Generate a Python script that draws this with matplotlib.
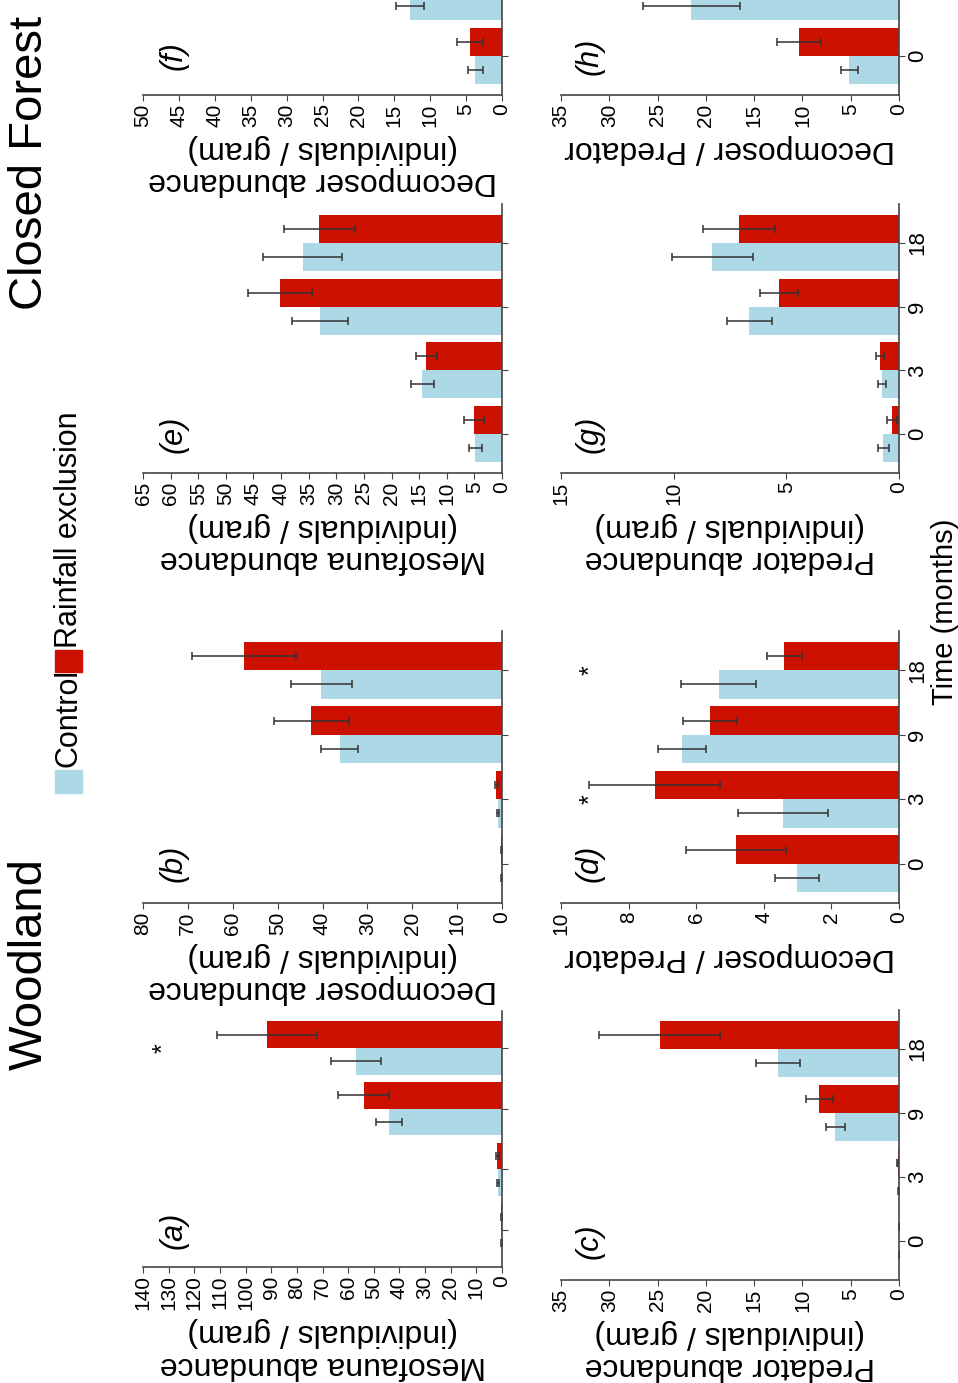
import numpy as np
import matplotlib

matplotlib.use("Agg")
import matplotlib.pyplot as plt
from matplotlib.patches import Rectangle

plt.rcParams["font.family"] = ["Liberation Sans", "DejaVu Sans"]

MONTHS = ["0", "3", "9", "18"]

# woodland
a_ctrl = [0.2, 1.5, 44.1, 57.0]
a_ctrl_err = [0.1, 0.5, 5.0, 9.7]
a_rain = [0.2, 1.8, 54.0, 91.5]
a_rain_err = [0.1, 0.6, 10.0, 19.5]

b_ctrl = [0.2, 0.9, 36.2, 40.3]
b_ctrl_err = [0.1, 0.3, 4.2, 6.8]
b_rain = [0.2, 1.3, 42.5, 57.4]
b_rain_err = [0.1, 0.3, 8.3, 11.6]

c_ctrl = [0.02, 0.1, 6.6, 12.55]
c_ctrl_err = [0.02, 0.05, 1.0, 2.3]
c_rain = [0.03, 0.15, 8.24, 24.8]
c_rain_err = [0.02, 0.05, 1.4, 6.3]

d_ctrl = [3.02, 3.44, 6.42, 5.34]
d_ctrl_err = [0.66, 1.33, 0.7, 1.1]
d_rain = [4.82, 7.23, 5.59, 3.39]
d_rain_err = [1.48, 1.94, 0.8, 0.53]

# closed forest
e_ctrl = [4.8, 14.4, 33.0, 36.1]
e_ctrl_err = [1.2, 2.0, 5.1, 7.1]
e_rain = [5.1, 13.7, 40.2, 33.1]
e_rain_err = [1.8, 1.9, 5.8, 6.4]

f_ctrl = [3.7, 12.8, 27.0, 30.0]
f_ctrl_err = [1.0, 2.0, 4.5, 5.0]
f_rain = [4.5, 11.0, 33.0, 27.0]
f_rain_err = [1.8, 2.0, 5.0, 5.0]

g_ctrl = [0.69, 0.74, 6.65, 8.28]
g_ctrl_err = [0.26, 0.18, 1.0, 1.81]
g_rain = [0.33, 0.84, 5.32, 7.09]
g_rain_err = [0.22, 0.18, 0.85, 1.6]

h_ctrl = [5.14, 21.5, 5.0, 4.4]
h_ctrl_err = [0.86, 5.05, 1.0, 1.0]
h_rain = [10.34, 15.0, 7.5, 5.0]
h_rain_err = [2.26, 3.0, 1.5, 1.0]

# significance marks: (month index, height)
a_stars = [(3, 132)]
d_stars = [(1, 9.13), (3, 9.13)]

CONTROL = "#add8e6"
RAIN = "#cc1100"
AXIS = "#444444"

MESO = "Mesofauna abundance\n(individuals / gram)"
DECO = "Decomposer abundance\n(individuals / gram)"
PRED = "Predator abundance\n(individuals / gram)"
RATIO = "Decomposer / Predator"

fig = plt.figure(figsize=(9.58, 13.83), dpi=100)
W, H = 958, 1383


def rect(x0, x1, ytop, ybot):
    return [x0 / W, (H - ybot) / H, (x1 - x0) / W, (ybot - ytop) / H]


def panel(box, ctrl, ctrl_err, rain, rain_err, vmax, step, letter, label,
          months=None, stars=()):
    ax = fig.add_axes(box)
    pos = np.arange(len(MONTHS))
    w = 0.44
    ekw = dict(ecolor="#333333", elinewidth=1.1, capsize=3, capthick=1.1)
    ax.barh(pos - w / 2, ctrl, height=w, color=CONTROL, xerr=ctrl_err, error_kw=ekw)
    ax.barh(pos + w / 2, rain, height=w, color=RAIN, xerr=rain_err, error_kw=ekw)
    ax.set_xlim(vmax, 0)
    ax.set_ylim(-0.61, 3.61)
    ticks = np.arange(0, vmax + step / 2, step)
    ax.set_xticks(ticks)
    ax.set_xticklabels([f"{t:g}" for t in ticks])
    ax.tick_params(axis="x", labelrotation=90, labelsize=15, length=4,
                   color=AXIS, pad=2)
    ax.yaxis.tick_right()
    ax.set_yticks(pos)
    ax.set_yticklabels(months if months else [""] * len(MONTHS))
    ax.tick_params(axis="y", labelrotation=90, labelsize=16, length=4,
                   color=AXIS, pad=2)
    for lbl in ax.get_yticklabels():
        lbl.set_va("center")
    for s in ("top", "left"):
        ax.spines[s].set_visible(False)
    for s in ("bottom", "right"):
        ax.spines[s].set_color(AXIS)
        ax.spines[s].set_linewidth(1.2)
    ax.set_xlabel(label, rotation=180, fontsize=23, labelpad=5, linespacing=1.1)
    ax.text(0.085, 0, letter, transform=ax.get_yaxis_transform(), rotation=90,
            style="italic", fontsize=22, ha="center", va="center")
    for idx, val in stars:
        ax.text(val, idx, "*", rotation=90, ha="center", va="center", fontsize=18)
    return ax


panel(rect(143, 502, 1011, 1267), a_ctrl, a_ctrl_err, a_rain, a_rain_err,
      140, 10, "(a)", MESO, stars=a_stars)
panel(rect(143, 502, 631, 903), b_ctrl, b_ctrl_err, b_rain, b_rain_err,
      80, 10, "(b)", DECO)
panel(rect(143, 502, 204, 473), e_ctrl, e_ctrl_err, e_rain, e_rain_err,
      65, 5, "(e)", MESO)
panel(rect(143, 502, -174, 95), f_ctrl, f_ctrl_err, f_rain, f_rain_err,
      50, 5, "(f)", DECO)

panel(rect(561, 899, 1010, 1280), c_ctrl, c_ctrl_err, c_rain, c_rain_err,
      35, 5, "(c)", PRED, months=MONTHS)
panel(rect(561, 899, 631, 903), d_ctrl, d_ctrl_err, d_rain, d_rain_err,
      10, 2, "(d)", RATIO, months=MONTHS, stars=d_stars)
panel(rect(561, 899, 204, 473), g_ctrl, g_ctrl_err, g_rain, g_rain_err,
      15, 5, "(g)", PRED, months=MONTHS)
# only the first month of (h) stays on the page
panel(rect(561, 899, -174, 95), h_ctrl, h_ctrl_err, h_rain, h_rain_err,
      35, 5, "(h)", RATIO, months=MONTHS[:1] + [""] * 3)

# titles and shared labels, all turned with the page
fig.text(30 / W, (H - 1070) / H, "Woodland", rotation=90, fontsize=34,
         ha="center", va="bottom")
fig.text(30 / W, (H - 310) / H, "Closed Forest", rotation=90, fontsize=34,
         ha="center", va="bottom")
fig.text(945 / W, (H - 612) / H, "Time (months)", rotation=90, fontsize=21,
         ha="center", va="center")

# legend drawn by hand, since legends cannot be rotated
fig.add_artist(Rectangle((55 / W, (H - 793) / H), 27 / W, 23 / H,
                         transform=fig.transFigure, color=CONTROL))
fig.text(69 / W, (H - 767) / H, "Control", rotation=90, fontsize=22,
         ha="center", va="bottom")
fig.add_artist(Rectangle((55 / W, (H - 672) / H), 27 / W, 22 / H,
                         transform=fig.transFigure, color=RAIN))
fig.text(69 / W, (H - 648) / H, "Rainfall exclusion", rotation=90, fontsize=22,
         ha="center", va="bottom")

fig.savefig("out.png", dpi=100)
